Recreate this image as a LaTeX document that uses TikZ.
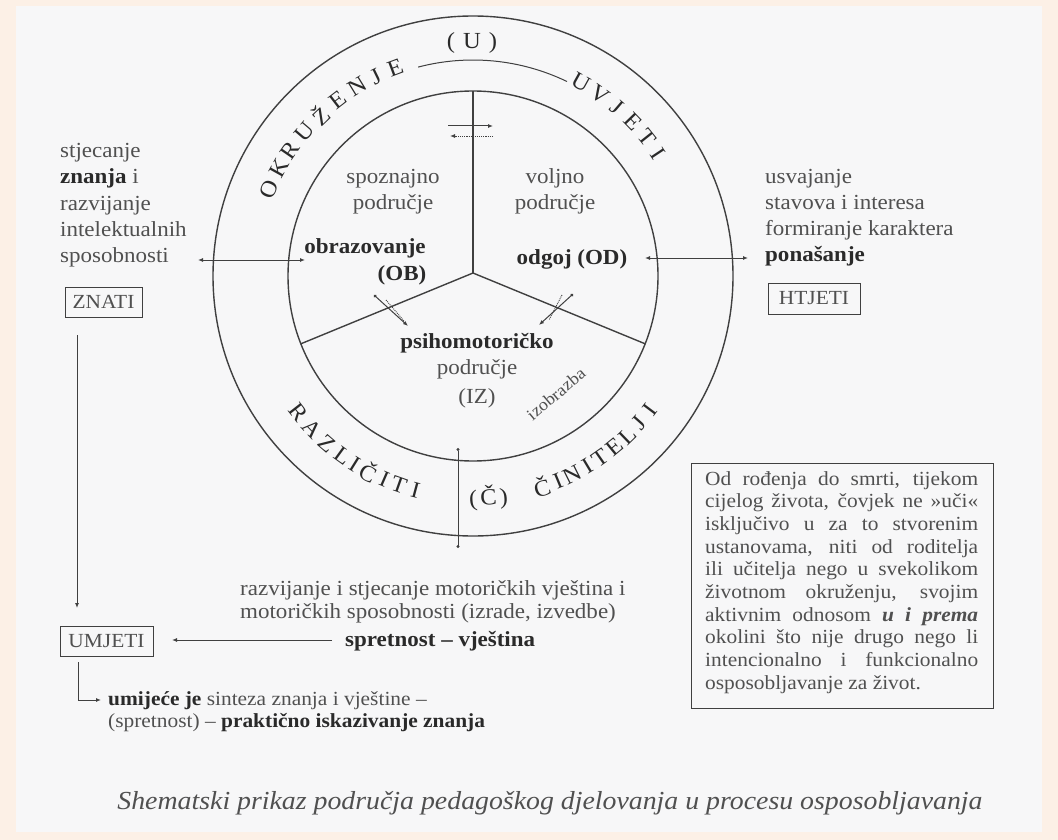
\documentclass[tikz,border=0pt]{standalone}
\usepackage{fontspec}
\setmainfont{Liberation Serif}[FakeStretch=1.07]
\usetikzlibrary{arrows.meta,calc}
\definecolor{peach}{HTML}{FCF0E6}
\definecolor{paper}{HTML}{F7F7F8}
\definecolor{ink}{HTML}{404040}
\definecolor{txt}{HTML}{505050}
\definecolor{btxt}{HTML}{2A2A2A}
\newcommand\boldtxt[1]{\textcolor{btxt}{\textbf{#1}}}
\begin{document}
\begin{tikzpicture}[x=1pt,y=1pt,
  ln/.style={draw=ink,line width=1.4pt},
  thinln/.style={draw=ink,line width=1pt},
  dotln/.style={draw=ink,line width=0.9pt,densely dotted},
  tipe/.style={-{Latex[length=5pt,width=4pt]}},
  tipb/.style={{Latex[length=5pt,width=4pt]}-{Latex[length=5pt,width=4pt]}},
  tipd/.style={{Circle[length=3pt]}-{Latex[length=5pt,width=4pt]}},
  body/.style={font=\fontsize{21.5}{25}\selectfont,text=txt,inner sep=0pt},
  ring/.style={font=\fontsize{23}{23}\selectfont,text=btxt,inner sep=0pt},
  boxn/.style={draw=ink,line width=1pt,font=\fontsize{20}{20}\selectfont,text=txt,inner sep=0pt},
]
\useasboundingbox (0,0) rectangle (1058,-840);
\fill[peach] (0,0) rectangle (1058,-840);
\fill[paper] (16,-6) rectangle (1042,-832);

% circles
\coordinate (C) at (473,-276);
\draw[ln] (C) circle[radius=260];
\draw[ln] (C) circle[radius=185];

% Y divider
\coordinate (Y) at (473,-273);
\coordinate (Ytop) at (473,-91);
\coordinate (Yl) at ($(C)+(201.5:185)$);
\coordinate (Yr) at ($(C)+(-21.5:185)$);
\draw[ln] (Y) -- (Ytop);
\draw[ln] (Y) -- (Yl);
\draw[ln] (Y) -- (Yr);

% (U) arc and label
\coordinate (ua) at ($(C)+(104.7:216)$);
\draw[thinln] (ua) arc[start angle=104.7,end angle=64.2,radius=216];
\node[ring] (U) at (472,-43) {(\hspace{8pt}U\hspace{8pt})};

% ring letters
\foreach \l/\a [count=\i] in {O/157,K/151,R/145.5,U/139.5,Ž/133.5,E/127.5,N/121.5,J/116,E/110.5}
  \node[ring,rotate=\a-90] (ok\i) at ($(C)+(\a:222)$) {\l};
\foreach \l/\a [count=\i] in {U/61,V/55,J/49.5,E/44,T/38.5,I/33.5}
  \node[ring,rotate=\a-90] (uv\i) at ($(C)+(\a:222)$) {\l};
\foreach \l/\a [count=\i] in {R/218,A/223.5,Z/229,L/234,I/238,Č/242,I/246.5,T/250.5,I/255}
  \node[ring,rotate=\a+90] (ra\i) at ($(C)+(\a:222)$) {\l};
\foreach \l/\a [count=\i] in {Č/288,I/292.5,N/296.5,I/301,T/305,E/309.5,L/314,J/318.5,I/323}
  \node[ring,rotate=\a+90] (ci\i) at ($(C)+(\a:222)$) {\l};
\node[ring,rotate=4] (cc) at ($(C)+(274:222)$) {(\hspace{3pt}Č\hspace{3pt})};

% small arrows
\coordinate (ta1) at (448,-126); \coordinate (ta2) at (493,-126);
\coordinate (tb1) at (493,-136); \coordinate (tb2) at (450,-136);
\draw[thinln,tipe] (ta1) -- (ta2);
\draw[dotln,tipe] (tb1) -- (tb2);
\coordinate (dl1) at (374,-295); \coordinate (dl2) at (408,-326);
\coordinate (dl3) at (386,-300); \coordinate (dl4) at (404,-321);
\draw[thinln,tipd] (dl1) -- (dl2);
\draw[dotln] (dl3) -- (dl4);
\coordinate (dr1) at (573,-294); \coordinate (dr2) at (539,-325);
\coordinate (dr3) at (562,-295); \coordinate (dr4) at (549,-320);
\draw[thinln,tipd] (dr1) -- (dr2);
\draw[dotln] (dr3) -- (dr4);

% horizontal arrows
\coordinate (la1) at (198,-260); \coordinate (la2) at (305,-260);
\draw[thinln,tipb] (la1) -- (la2);
\coordinate (ra1) at (645,-258); \coordinate (ra2) at (748,-258);
\draw[thinln,tipb] (ra1) -- (ra2);
\coordinate (ba1) at (458,-448); \coordinate (ba2) at (458,-548);
\draw[thinln,{Circle[length=3pt]}-{Circle[length=3pt]}] (ba1) -- (ba2);

% centre texts
\node[body,anchor=base] (sp1) at (393,-183) {spoznajno};
\node[body,anchor=base] (sp2) at (393,-209) {područje};
\node[body,anchor=base] (vo1) at (555,-183) {voljno};
\node[body,anchor=base] (vo2) at (555,-209) {područje};
\node[body,anchor=base] (ob1) at (365,-253) {\boldtxt{obrazovanje}};
\node[body,anchor=base] (ob2) at (402,-280) {\boldtxt{(OB)}};
\node[body,anchor=base] (od) at (572,-264) {\boldtxt{odgoj (OD)}};
\node[body,anchor=base] (ps1) at (477,-348) {\boldtxt{psihomotoričko}};
\node[body,anchor=base] (ps2) at (477,-374) {područje};
\node[body,anchor=base] (ps3) at (477,-403) {(IZ)};
\node[body,font=\fontsize{17}{17}\selectfont,rotate=40] (izo) at (556,-394) {izobrazba};

% left texts
\node[body,anchor=base west] (l1) at (60,-158) {stjecanje};
\node[body,anchor=base west] (l2) at (60,-184) {\boldtxt{znanja} i};
\node[body,anchor=base west] (l3) at (60,-210) {razvijanje};
\node[body,anchor=base west] (l4) at (60,-236) {intelektualnih};
\node[body,anchor=base west] (l5) at (60,-262) {sposobnosti};
\node[boxn,minimum width=77pt,minimum height=30pt] (znati) at (103.5,-302) {ZNATI};

% right texts
\node[body,anchor=base west] (r1) at (765,-183) {usvajanje};
\node[body,anchor=base west] (r2) at (765,-209) {stavova i interesa};
\node[body,anchor=base west] (r3) at (765,-235) {formiranje karaktera};
\node[body,anchor=base west] (r4) at (765,-261) {\boldtxt{ponašanje}};
\node[boxn,minimum width=92pt,minimum height=31pt] (htjeti) at (814,-298.5) {HTJETI};

% bottom left
\node[boxn,minimum width=93pt,minimum height=30pt] (umjeti) at (106.5,-641) {UMJETI};
\coordinate (va1) at (77,-335); \coordinate (va2) at (77,-608);
\draw[thinln,tipe] (va1) -- (va2);
\node[body,anchor=base west] (m1) at (240,-595) {razvijanje i stjecanje motoričkih vještina i};
\node[body,anchor=base west] (m2) at (240,-618) {motoričkih sposobnosti (izrade, izvedbe)};
\node[body,anchor=base west] (sv) at (345,-646) {\boldtxt{spretnost – vještina}};
\coordinate (sa1) at (332,-640); \coordinate (sa2) at (172,-640);
\draw[thinln,tipe] (sa1) -- (sa2);
\coordinate (hk1) at (78,-662); \coordinate (hk2) at (101,-700);
\draw[thinln,tipe] (hk1) |- (hk2);
\node[body,font=\fontsize{20}{20}\selectfont,anchor=base west] (u1) at (108,-705) {\boldtxt{umijeće je} sinteza znanja i vještine –};
\node[body,font=\fontsize{20}{20}\selectfont,anchor=base west] (u2) at (108,-727) {(spretnost) – \boldtxt{praktično iskazivanje znanja}};

% note box
\coordinate (bx1) at (691,-463); \coordinate (bx2) at (993,-708);
\draw[thinln] (bx1) rectangle (bx2);
\node[body,font=\fontsize{20}{22.7}\selectfont,anchor=north west,text width=273pt,align=justify] (note) at (705,-471)
 {\tolerance=10000 Od rođenja do smrti, tijekom\linebreak cijelog života, čovjek ne »uči«\linebreak isključivo u za to stvorenim\linebreak ustanovama, niti od roditelja\linebreak ili učitelja nego u svekolikom\linebreak životnom okruženju, svojim\linebreak aktivnim odnosom \textbf{\textit{u i prema}}\linebreak okolini što nije drugo nego li\linebreak intencionalno i funkcionalno\linebreak osposobljavanje za život.};

% caption
\node[body,font=\fontsize{26}{30}\selectfont\itshape] (cap) at (550,-803) {Shematski prikaz područja pedagoškog djelovanja u procesu osposobljavanja};
\end{tikzpicture}
\end{document}
